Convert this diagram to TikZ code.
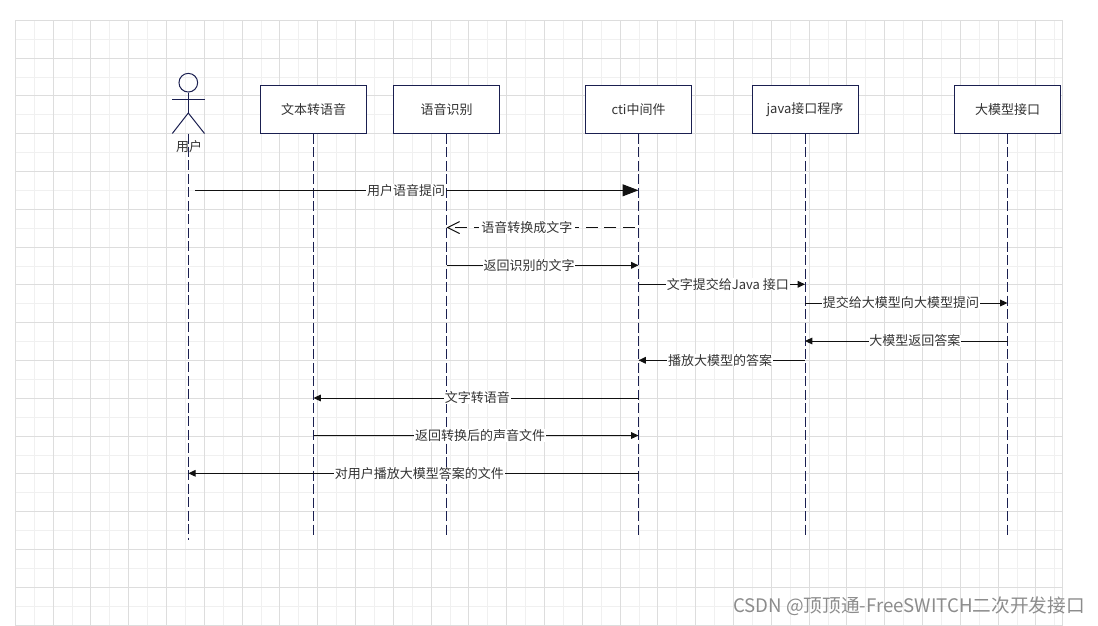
\documentclass[tikz,border=0pt]{standalone}
\usepackage{fontspec}
\setmainfont{Noto Sans CJK SC}
\usetikzlibrary{arrows.meta}
\definecolor{gridmajor}{HTML}{DDDDDD}
\definecolor{gridminor}{HTML}{F0F0F0}
\definecolor{umlline}{HTML}{1A1F50}
\definecolor{umltext}{HTML}{333333}
\definecolor{msgline}{HTML}{111111}

\begin{document}
\begin{tikzpicture}[x=0.75pt,y=-0.75pt,
		object/.style={
			draw=umlline,
			fill=white,
			rectangle,
			line width=0.75pt,
			minimum width=79.5pt,
			minimum height=36pt,
			inner sep=0pt,
			text=umltext,
			font=\fontsize{9.75pt}{12pt}\selectfont
		},
		limb/.style={draw=umlline, line width=0.75pt},
		lifeline/.style={draw=umlline, line width=0.75pt, dash pattern=on 7.5pt off 2.6pt},
		msg/.style={draw=msgline, line width=0.75pt, -{Triangle[length=5.5pt,width=5pt]}},
		bigmsg/.style={draw=msgline, line width=0.75pt, -{Triangle[length=12pt,width=9pt]}},
		retmsg/.style={draw=msgline, line width=0.75pt, dash pattern=on 9pt off 5pt, -{Straight Barb[length=9pt,width=9pt]}},
		label/.style={fill=white, inner xsep=0.6pt, inner ysep=0pt, text=umltext, font=\fontsize{9.75pt}{12pt}\selectfont}
	]
	\useasboundingbox (0,0) rectangle (1098,625);
	
	% grid
	\foreach \i in {0,...,55} \draw[gridminor, line width=0.75pt] ({15.3+18.9*\i},20.3) -- ({15.3+18.9*\i},625);
	\foreach \i in {0,...,32} \draw[gridminor, line width=0.75pt] (15.3,{20.3+18.9*\i}) -- (1062.5,{20.3+18.9*\i});
	\foreach \i in {0,...,27} \draw[gridmajor, line width=0.75pt] ({15.3+37.8*\i},20.3) -- ({15.3+37.8*\i},625);
	\foreach \i in {0,...,16} \draw[gridmajor, line width=0.75pt] (15.3,{20.3+37.8*\i}) -- (1062.5,{20.3+37.8*\i});
	\draw[gridmajor, line width=0.75pt] (1062.5,20.3) -- (1062.5,625);
	
	% objects
	\node[object] (tts) at (313.5,109.5) {文本转语音};
	\node[object] (asr) at (446.5,109.5) {语音识别};
	\node[object] (cti) at (638.5,109.5) {cti中间件};
	\node[object] (java) at (805,109.5) {java接口程序};
	\node[object] (llm) at (1007.5,109.5) {大模型接口};
	
	% actor
	\node[circle, limb, minimum size=14pt, inner sep=0pt] (head) at (188.3,82.7) {};
	\coordinate (armL) at (172.3,99);
	\coordinate (armR) at (204.5,99);
	\coordinate (hip) at (188.3,113);
	\coordinate (footL) at (172.3,133.5);
	\coordinate (footR) at (204.5,133.5);
	\coordinate (neck) at (188.3,133.5);
	\draw[limb] (head.south) -- (hip);
	\draw[limb] (armL) -- (armR);
	\draw[limb] (footL) -- (hip) -- (footR);
	\node[text=umltext, font=\fontsize{9.75pt}{12pt}\selectfont, inner sep=0pt] (user) at (189,147) {用户};
	
	% lifelines
	\coordinate (userEnd) at (188.3,540);
	\coordinate (ttsEnd) at (313.5,535.5);
	\coordinate (asrEnd) at (446.5,535.5);
	\coordinate (ctiEnd) at (638.5,535.5);
	\coordinate (javaEnd) at (805,535.5);
	\coordinate (llmEnd) at (1007.5,535.5);
	\draw[lifeline] (neck) -- (userEnd);
	\draw[lifeline] (tts.south) -- (ttsEnd);
	\draw[lifeline] (asr.south) -- (asrEnd);
	\draw[lifeline] (cti.south) -- (ctiEnd);
	\draw[lifeline] (java.south) -- (javaEnd);
	\draw[lifeline] (llm.south) -- (llmEnd);
	
	% messages
	\coordinate (m1a) at (195,190.3); \coordinate (m1b) at (638.5,190.3);
	\coordinate (m2a) at (635,227.5); \coordinate (m2b) at (446.5,227.5);
	\coordinate (m3a) at (446.5,265.3); \coordinate (m3b) at (638.5,265.3);
	\coordinate (m4a) at (638.5,284.3); \coordinate (m4b) at (805,284.3);
	\coordinate (m5a) at (805,303); \coordinate (m5b) at (1007.5,303);
	\coordinate (m6a) at (1007.5,341); \coordinate (m6b) at (805,341);
	\coordinate (m7a) at (805,360.3); \coordinate (m7b) at (638.5,360.3);
	\coordinate (m8a) at (638.5,398); \coordinate (m8b) at (313.5,398);
	\coordinate (m9a) at (313.5,435.5); \coordinate (m9b) at (638.5,435.5);
	\coordinate (m10a) at (638.5,473.3); \coordinate (m10b) at (188.3,473.3);
	\draw[bigmsg] (m1a) -- node[label, pos=0.476] (t1) {用户语音提问} (m1b);
	\draw[retmsg] (m2a) -- node[label, pos=0.573, inner xsep=2pt] (t2) {语音转换成文字} (m2b);
	\draw[msg] (m3a) -- node[label, pos=0.43] (t3) {返回识别的文字} (m3b);
	\draw[msg] (m4a) -- node[label, pos=0.537] (t4) {文字提交给Java 接口} (m4b);
	\draw[msg] (m5a) -- node[label, pos=0.474] (t5) {提交给大模型向大模型提问} (m5b);
	\draw[msg] (m6a) -- node[label, pos=0.457] (t6) {大模型返回答案} (m6b);
	\draw[msg] (m7a) -- node[label, pos=0.51] (t7) {播放大模型的答案} (m7b);
	\draw[msg] (m8a) -- node[label, pos=0.496] (t8) {文字转语音} (m8b);
	\draw[msg] (m9a) -- node[label, pos=0.513] (t9) {返回转换后的声音文件} (m9b);
	\draw[msg] (m10a) -- node[label, pos=0.487] (t10) {对用户播放大模型答案的文件} (m10b);
	
	% watermark
	\node[anchor=east, inner sep=0pt, text=black!45, font=\fontsize{14pt}{16pt}\selectfont] (mark) at (1085,606) {CSDN @顶顶通-FreeSWITCH二次开发接口};
\end{tikzpicture}
\end{document}
